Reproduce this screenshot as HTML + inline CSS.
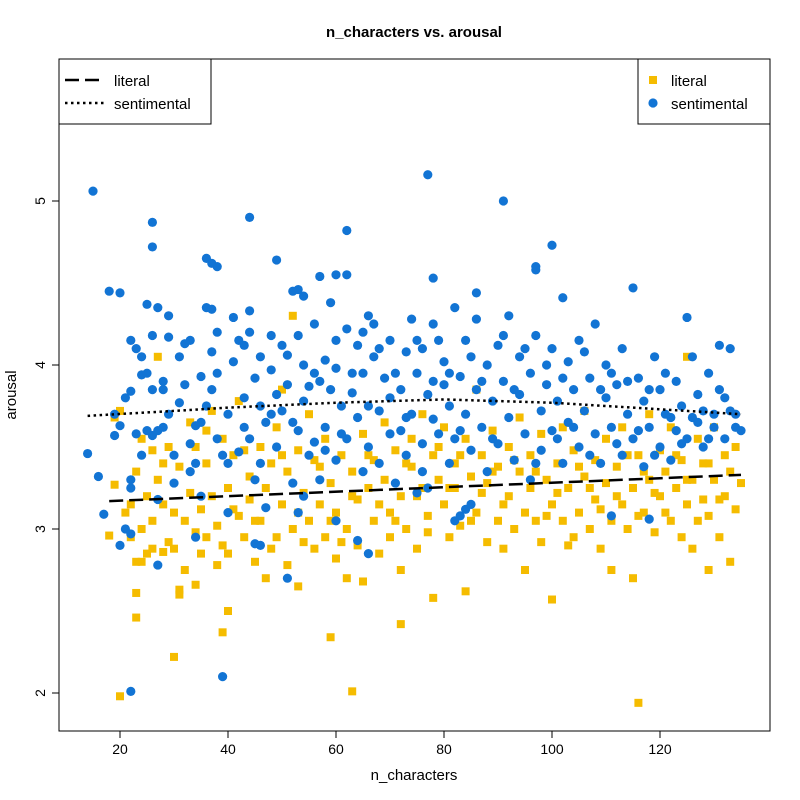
<!DOCTYPE html>
<html><head><meta charset="utf-8"><style>
body{margin:0;background:#fff}
svg{display:block;font-family:"Liberation Sans",Arial,sans-serif}
</style></head><body>
<svg id="c" width="800" height="800"></svg>
<script>
const xTicks=[20,40,60,80,100,120];
const yTicks=[2,3,4,5];
const litX=[18,19,19,20,21,22,23,23,24,25,25,26,26,27,27,28,29,29,30,31,32,32,33,33,34,35,35,36,36,37,37,38,38,39,40,40,41,42,42,43,44,44,45,46,46,47,47,48,49,49,50,50,51,51,52,52,53,53,54,55,55,56,56,57,58,58,59,60,60,61,62,62,63,64,64,65,65,66,67,67,68,69,69,70,70,71,72,72,73,74,74,75,76,76,77,78,78,79,80,80,81,82,82,83,84,84,85,86,86,87,88,88,89,90,90,91,92,92,93,94,94,95,96,96,97,98,98,99,100,100,101,102,102,103,104,104,105,106,106,107,108,108,109,110,110,111,111,112,113,113,114,115,115,116,117,118,118,119,120,120,121,122,122,123,124,124,125,125,126,126,127,128,128,129,129,130,130,131,132,132,133,133,134,135,20,30,63,116,39,40,23,23,59,72,31,31,34,28,24,
22,24,26,28,30,34,36,39,41,43,45,48,50,53,54,57,59,61,63,66,68,71,73,75,77,79,81,83,85,87,89,91,93,95,97,99,101,103,105,107,109,112,114,116,117,119,121,123,125,127,129,131,134];
const litY=[2.96,3.27,3.68,3.72,3.10,2.95,3.35,2.80,3.00,2.85,3.20,2.88,3.48,3.30,4.05,3.15,2.92,3.50,2.88,3.38,3.05,2.75,3.22,3.65,3.50,2.85,3.12,3.40,2.95,3.72,3.20,3.02,2.78,3.55,3.25,2.85,3.45,3.08,3.78,2.95,3.32,3.18,2.80,3.50,3.05,3.25,2.70,3.40,3.62,2.95,3.15,3.85,2.78,3.35,3.00,4.30,3.48,2.65,3.22,3.05,3.70,2.88,3.42,3.15,2.95,3.55,3.28,2.82,3.10,3.45,3.00,2.70,3.35,3.18,2.90,3.58,2.68,3.25,3.05,3.42,2.85,3.30,3.65,3.10,2.95,3.48,3.20,2.75,3.00,3.38,3.55,2.88,3.25,3.70,3.08,3.45,2.58,3.30,3.15,3.62,2.95,3.40,3.25,3.02,3.55,2.62,3.32,3.10,3.85,3.45,2.92,3.28,3.60,3.05,3.38,2.88,3.50,3.20,3.00,3.35,3.68,2.75,3.25,3.45,3.05,2.92,3.58,3.30,2.57,3.15,3.40,3.05,3.62,3.25,2.95,3.48,3.10,3.32,3.72,3.00,3.42,3.18,2.88,3.55,3.28,2.75,3.05,3.38,3.15,3.62,3.00,3.25,2.70,3.45,3.10,3.30,3.70,2.98,3.20,3.48,3.35,3.05,3.62,3.25,2.95,3.42,3.15,4.05,3.30,2.88,3.55,3.18,3.40,2.75,3.08,3.62,3.30,2.95,3.45,3.20,2.80,3.35,3.50,3.28,1.98,2.22,2.01,1.94,2.37,2.50,2.46,2.61,2.34,2.42,2.60,2.63,2.66,2.86,2.80,
3.15,3.55,3.05,3.40,3.10,2.98,3.60,2.90,3.12,3.48,3.05,2.88,3.45,3.10,2.92,3.38,3.05,2.92,3.20,3.45,3.15,3.05,3.40,3.20,2.98,3.50,3.25,3.45,3.05,3.22,3.35,3.15,3.42,3.10,3.35,3.08,3.22,2.90,3.38,3.25,3.12,3.20,3.45,3.08,3.35,3.22,3.10,3.45,3.30,3.05,3.40,3.18,3.12];
const senX=[15,77,91,100,62,44,26,26,36,37,38,49,57,60,62,78,86,97,97,102,115,18,20,25,27,29,36,37,44,53,54,66,22,39,14,16,17,20,21,22,27,34,45,46,51,53,60,64,66,75,82,83,84,85,111,118,19,19,20,22,22,22,22,23,24,24,25,25,26,26,27,27,28,28,28,29,30,30,31,32,32,33,33,34,34,35,35,36,37,37,38,38,39,40,40,41,41,42,43,43,43,44,45,45,46,46,47,47,48,48,49,49,50,51,51,52,52,53,53,54,54,55,55,56,56,57,57,58,58,59,59,60,60,61,62,62,63,64,64,65,65,66,67,67,68,68,69,70,70,71,72,72,73,73,74,74,75,76,76,77,77,78,78,79,80,80,81,81,82,82,83,84,84,85,86,86,87,88,88,89,90,90,91,92,92,93,94,94,95,96,96,97,98,98,99,100,100,101,102,103,103,104,105,105,106,107,108,108,109,110,110,111,112,113,113,114,115,116,117,117,118,119,120,120,121,122,123,123,124,125,125,126,126,127,128,128,129,130,130,131,131,132,133,133,134,135,
21,23,24,26,29,31,33,35,38,40,42,44,46,48,50,52,54,56,58,60,61,63,65,66,68,70,71,73,75,76,78,79,81,83,85,87,89,91,93,95,97,99,101,102,104,106,107,109,111,112,114,116,118,119,121,122,124,127,129,132,134];
const senY=[5.06,5.16,5.00,4.73,4.82,4.90,4.87,4.72,4.65,4.62,4.60,4.64,4.54,4.55,4.55,4.53,4.44,4.60,4.58,4.41,4.47,4.45,4.44,4.37,4.35,4.30,4.35,4.34,4.33,4.46,4.42,4.30,2.01,2.10,3.46,3.32,3.09,2.90,3.00,2.97,2.78,2.95,2.91,2.90,2.70,3.10,3.05,2.93,2.85,3.22,3.05,3.08,3.12,3.15,3.08,3.06,3.57,3.70,3.63,3.84,4.15,3.30,3.25,3.58,3.94,4.05,3.95,3.60,3.57,4.18,3.60,3.18,3.90,3.85,3.62,4.17,3.45,3.28,3.77,3.88,4.13,4.15,3.52,3.63,3.40,3.93,3.20,3.75,4.08,3.85,3.55,4.20,3.45,3.10,3.70,4.02,4.29,3.47,3.62,3.80,4.12,4.20,3.30,3.92,3.75,4.05,3.65,3.13,3.97,4.18,3.50,3.82,3.72,4.06,3.88,3.28,4.45,4.18,3.60,3.20,4.00,3.45,3.87,3.53,4.25,3.90,3.30,4.03,3.62,3.85,4.38,3.42,3.98,3.75,3.55,4.22,3.83,3.68,4.12,3.95,3.35,3.50,4.05,4.25,3.72,3.40,3.92,4.15,3.58,3.28,3.85,3.60,4.08,3.45,4.28,3.70,3.95,3.52,4.10,3.82,3.25,4.25,3.67,3.58,3.88,4.02,3.40,3.75,4.35,3.55,3.93,3.70,4.15,3.48,3.85,4.28,3.62,4.00,3.35,3.78,4.12,3.52,3.90,3.68,4.30,3.42,3.82,4.05,3.58,3.95,3.30,4.18,3.72,3.48,3.88,4.10,3.60,3.78,3.40,4.02,3.65,3.85,4.15,3.50,3.72,3.92,4.25,3.58,3.40,3.80,4.00,3.62,3.88,3.45,4.10,3.70,3.55,3.92,3.38,3.78,3.62,4.05,3.50,3.85,3.70,3.42,3.90,3.60,3.75,4.29,3.55,3.68,4.05,3.82,3.50,3.72,3.95,3.70,3.62,4.12,3.85,3.55,3.72,4.10,3.62,3.60,
3.80,4.10,3.45,3.85,3.70,4.05,3.35,3.65,3.95,3.40,4.15,3.55,3.40,3.70,4.12,3.65,3.78,3.95,3.48,4.15,3.58,3.95,4.20,3.75,4.10,3.80,3.95,3.68,4.15,3.35,3.90,4.15,3.95,3.60,4.05,3.90,3.55,4.18,3.85,4.10,3.40,4.00,3.55,3.92,3.62,4.08,3.45,3.85,3.95,3.52,3.90,3.60,3.85,3.45,3.95,3.68,3.52,3.65,3.55,3.80,3.70];
const litFitX=[18,135];
const litFitY=[3.17,3.33];
const senFitX=[14,30,40,60,80,100,120,135];
const senFitY=[3.69,3.72,3.74,3.77,3.79,3.77,3.73,3.70];

const NS="http://www.w3.org/2000/svg";
const svg=document.getElementById('c');
const L=59,R=770,T=59,B=731;
const sx=v=>120+(v-20)*5.4;
const sy=v=>529-(v-3)*164;
function el(tag,attrs,parent){const e=document.createElementNS(NS,tag);for(const k in attrs)e.setAttribute(k,attrs[k]);(parent||svg).appendChild(e);return e;}

const title=el('text',{x:414,y:37,'text-anchor':'middle','font-size':15,'font-weight':'bold'});


title.textContent='n_characters vs. arousal';

const gL=el('g',{});


for(let i=0;i<litX.length;i++){
  const r=el('rect',{x:sx(litX[i])-4,y:sy(litY[i])-4,width:8,height:8,fill:'#F5BC00'},gL);
  
  
}
const gS=el('g',{});


for(let i=0;i<senX.length;i++){
  const c=el('circle',{cx:sx(senX[i]),cy:sy(senY[i]),r:4.6,fill:'#1274D4'},gS);
  
  
}
const lf=el('polyline',{points:litFitX.map((x,i)=>sx(x)+','+sy(litFitY[i])).join(' '),fill:'none',stroke:'#000','stroke-width':2.5,'stroke-dasharray':'14,6'});


const sf=el('polyline',{points:senFitX.map((x,i)=>sx(x)+','+sy(senFitY[i])).join(' '),fill:'none',stroke:'#000','stroke-width':2.5,'stroke-dasharray':'2.5,3.5'});



const box=el('rect',{x:L,y:T,width:R-L,height:B-T,fill:'none',stroke:'#000','stroke-width':1});



xTicks.forEach(t=>{
  const x=sx(t);
  const ln=el('line',{x1:x,x2:x,y1:B,y2:B+7,stroke:'#000'});
  
  
  const tx=el('text',{x:x,y:B+23,'text-anchor':'middle','font-size':14});
  
  
  tx.textContent=t;
});
el('line',{x1:sx(20),x2:sx(120),y1:B,y2:B,stroke:'#000'});
yTicks.forEach(t=>{
  const y=sy(t);
  const ln=el('line',{x1:L-7,x2:L,y1:y,y2:y,stroke:'#000'});
  
  
  const tx=el('text',{x:0,y:0,'text-anchor':'middle','font-size':14,transform:`translate(${L-14},${y}) rotate(-90)`});
  
  
  tx.textContent=t;
});
const xl=el('text',{x:414,y:780,'text-anchor':'middle','font-size':15});


xl.textContent='n_characters';
const yl=el('text',{x:0,y:0,'text-anchor':'middle','font-size':15,transform:'translate(16,395) rotate(-90)'});


yl.textContent='arousal';

const lg=el('g',{});


el('rect',{x:L,y:T,width:152,height:65,fill:'#fff',stroke:'#000'},lg);
el('line',{x1:65,x2:104,y1:80,y2:80,stroke:'#000','stroke-width':2.5,'stroke-dasharray':'14,6'},lg);
el('line',{x1:65,x2:104,y1:103,y2:103,stroke:'#000','stroke-width':2.5,'stroke-dasharray':'2.5,3.5'},lg);
const t1=el('text',{x:114,y:86,'font-size':15},lg);t1.textContent='literal';


const t2=el('text',{x:114,y:109,'font-size':15},lg);t2.textContent='sentimental';



const rg=el('g',{});


el('rect',{x:638,y:T,width:132,height:65,fill:'#fff',stroke:'#000'},rg);
el('rect',{x:649,y:76,width:8,height:8,fill:'#F5BC00'},rg);
el('circle',{cx:653,cy:103,r:4.6,fill:'#1274D4'},rg);
const t3=el('text',{x:671,y:86,'font-size':15},rg);t3.textContent='literal';


const t4=el('text',{x:671,y:109,'font-size':15},rg);t4.textContent='sentimental';


</script>
</body></html>
